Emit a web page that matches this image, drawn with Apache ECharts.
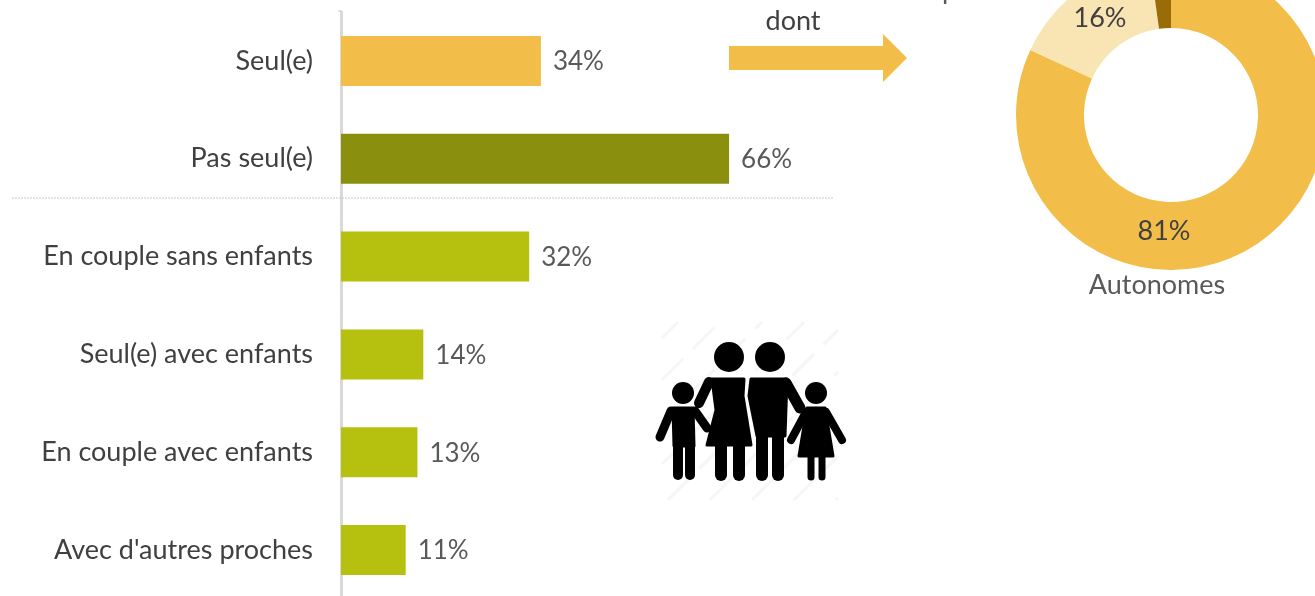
<!DOCTYPE html>
<html>
<head>
<meta charset="utf-8">
<style>
  html, body { margin: 0; padding: 0; background: #fff; overflow: hidden; height: 596px; }
  /* a little taller than the window: the last band runs past the bottom edge */
  #chart-container { width: 1315px; height: 604px; }
</style>
<script src="https://cdn.jsdelivr.net/npm/echarts@6/dist/echarts.min.js"></script>
</head>
<body>
<div id="chart-container"></div>
<script>
var categories = ['Seul(e)', 'Pas seul(e)', 'En couple sans enfants', 'Seul(e) avec enfants', 'En couple avec enfants', "Avec d'autres proches"];
var values = [34, 66, 32, 14, 13, 11];
var barColors = ['#F2BE49', '#8B8F0E', '#B5C00F', '#B5C00F', '#B5C00F', '#B5C00F'];

// slice sizes as measured on the picture, the printed labels are rounded differently
var donutNames = ['Autonomes', 'Dépendants potentiels', 'Dépendants'];
var donutValues = [81.9, 15.9, 2.2];
var donutLabels = ['81%', '16%'];
var donutColors = ['#F2BE49', '#F9E4B4', '#9A6C08'];

var FONT = 'Lato, "Open Sans", sans-serif';
var BLACK = '#000';
var TOP = 100;

// decoration: family pictogram, built from plain shapes
function limb(x1, y1, x2, y2, w) {
    return { type: 'line', shape: { x1: x1, y1: y1, x2: x2, y2: y2 }, style: { stroke: BLACK, lineWidth: w, lineCap: 'round' }, silent: true };
}
function head(x, y, r) {
    return { type: 'circle', shape: { cx: x, cy: y, r: r }, style: { fill: BLACK }, silent: true };
}
function poly(points) {
    return { type: 'polygon', shape: { points: points }, style: { fill: BLACK, stroke: BLACK, lineWidth: 3, lineJoin: 'round' }, silent: true };
}
var family = [
    // boy
    head(683, 393, 11),
    poly([[673, 408], [693, 408], [694, 446], [674, 446]]),
    limb(671, 411, 660, 437, 9),
    limb(695, 411, 707, 428, 9),
    limb(678, 440, 678, 475, 10),
    limb(690, 440, 690, 475, 10),
    // mother
    head(729, 357, 15),
    poly([[712, 379], [744, 379], [743, 396], [751, 445], [707, 445], [716, 410]]),
    limb(709, 382, 699, 403, 10),
    limb(721, 440, 721, 475, 12),
    limb(739, 440, 739, 475, 12),
    // father
    head(770, 357, 15),
    poly([[751, 379], [787, 379], [785, 436], [757, 436], [749, 396]]),
    limb(786, 383, 800, 408, 11),
    limb(762, 430, 762, 475, 12),
    limb(778, 430, 778, 475, 12),
    // girl
    head(816, 393, 11),
    poly([[807, 408], [825, 408], [833, 456], [799, 456]]),
    limb(806, 412, 791, 440, 8),
    limb(826, 412, 842, 440, 8),
    limb(811, 450, 811, 477, 7),
    limb(822, 450, 822, 477, 7)
];

// faint diagonal streaks behind the pictogram
var hatch = [];
for (var c = 1000; c < 1340; c += 42) {
    var x1 = Math.max(662, c - 500);
    var x2 = Math.min(838, c - 322);
    if (x2 > x1) {
        hatch.push({
            type: 'line',
            shape: { x1: x1, y1: c - x1, x2: x2, y2: c - x2 },
            style: { stroke: '#F6F6F6', lineWidth: 3, lineDash: [30, 14] },
            silent: true
        });
    }
}

function label(text, x, y, color, align) {
    return {
        type: 'text', x: x, y: y, z: TOP, silent: true,
        style: { text: text, fill: color, font: '27px ' + FONT, textAlign: align || 'center', textVerticalAlign: 'middle' }
    };
}

var option = {
    animation: false,
    backgroundColor: '#fff',
    grid: { left: 341, top: 12, width: 588, height: 587 },
    xAxis: { type: 'value', min: 0, max: 100, show: false },
    yAxis: {
        type: 'category',
        inverse: true,
        offset: 1,
        data: categories,
        axisLine: { show: true, lineStyle: { color: '#D9D9D9', width: 3 } },
        axisTick: { show: false },
        axisLabel: { color: '#404040', fontFamily: FONT, fontSize: 27, margin: 27 }
    },
    series: [
        {
            type: 'bar',
            barWidth: 50,
            data: values.map(function (v, i) {
                return { value: v, itemStyle: { color: barColors[i] } };
            }),
            label: {
                show: true,
                position: 'right',
                distance: 12,
                offset: [0, 1],
                formatter: '{c}%',
                color: '#595959',
                fontFamily: FONT,
                fontSize: 26
            }
        },
        {
            type: 'pie',
            center: [1171, 115],
            radius: [87, 155],
            startAngle: 90,
            clockwise: true,
            silent: true,
            data: donutNames.map(function (n, i) {
                return { name: n, value: donutValues[i], itemStyle: { color: donutColors[i] } };
            }),
            label: { show: false },
            labelLine: { show: false }
        }
    ],
    graphic: [
        { type: 'line', shape: { x1: 340, y1: 10, x2: 340, y2: 12 }, style: { stroke: '#D9D9D9', lineWidth: 3 }, silent: true },
        { type: 'line', z: TOP, shape: { x1: 12, y1: 198, x2: 834, y2: 198 }, style: { stroke: '#C8C8C8', lineWidth: 1, lineDash: [2, 1] }, silent: true },
        { type: 'polygon', shape: { points: [[729, 46], [883, 46], [883, 34], [907, 58], [883, 82], [883, 70], [729, 70]] }, style: { fill: '#F2BE49' }, silent: true },
        label('dont', 793, 21, '#404040'),
        label(donutLabels[1], 1100, 18, '#404040'),
        label(donutLabels[0], 1164, 231, '#404040'),
        label(donutNames[0], 1157, 285, '#595959'),
        label('potentiels', 1060, -10, '#595959', 'right'),
        { type: 'group', silent: true, children: hatch.concat(family) }
    ]
};

var myChart = echarts.init(document.getElementById('chart-container'));
myChart.setOption(option);
</script>
</body>
</html>
